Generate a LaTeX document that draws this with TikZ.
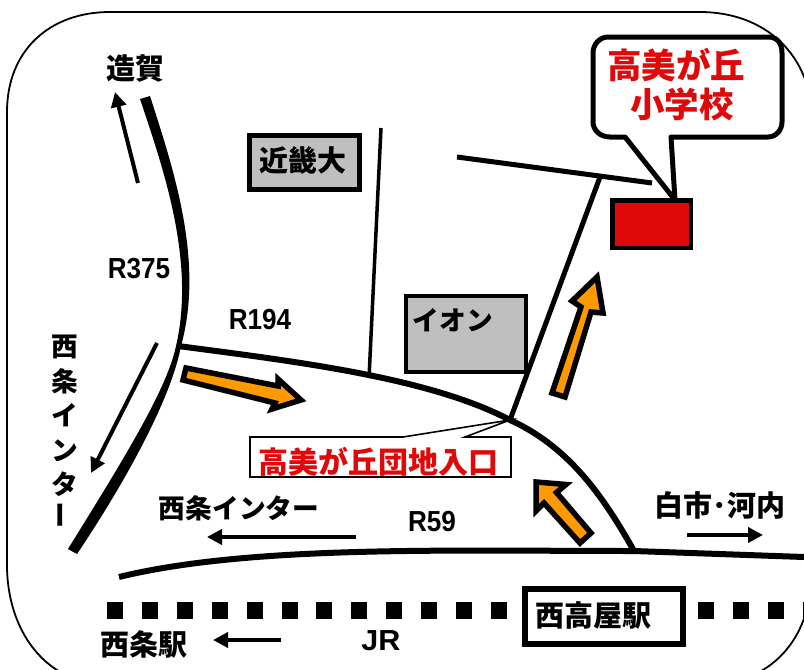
\documentclass[tikz,border=0pt]{standalone}
\usepackage{fontspec}
\newfontfamily\cjk{Noto Sans CJK JP}
\newfontfamily\lat{Liberation Sans}
\usetikzlibrary{arrows.meta}
\definecolor{maroad}{RGB}{255,153,0}
\definecolor{mared}{RGB}{224,8,8}
\tikzset{
 x=1pt,y=-1pt,
 lab/.style={inner sep=0pt,font=\cjk\bfseries\fontsize{29}{31}\selectfont,text=black},
 smalllab/.style={inner sep=0pt,font=\cjk\bfseries\fontsize{26.7}{29}\selectfont,text=black},
 latlab/.style={inner sep=0pt,font=\lat\bfseries\fontsize{29}{31}\selectfont,xscale=.9},
 redlab/.style={inner sep=0pt,font=\cjk\bfseries\fontsize{34.5}{39}\selectfont,text=mared,align=center},
 bigroad/.style={line width=6pt,draw=black},
 midroad/.style={line width=5pt,draw=black},
 thinroad/.style={line width=3.5pt,draw=black},
 thinarrow/.style={line width=4pt,-{Triangle[length=15pt,width=15pt]}},
 orangearrow/.style={draw=black,line width=5.5pt,fill=maroad,miter limit=10}
}
\begin{document}
\begin{tikzpicture}
\useasboundingbox (0,0) rectangle (804,670);
\begin{scope}
\clip (0,0) rectangle (804,670);
\draw[line width=1.8pt] (7,112) .. controls (7,50) and (50,12) .. (110,12) -- (700,12) .. controls (765,12) and (812,55) .. (812,120) -- (812,570) .. controls (812,640) and (770,685) .. (705,685) -- (110,685) .. controls (45,685) and (7,630) .. (7,565) -- cycle;
\draw[line width=17pt,dash pattern=on 16pt off 18.9pt] (107,610) -- (510,610);
\draw[line width=17pt,dash pattern=on 16pt off 18.9pt] (698,610) -- (810,610);
\end{scope}
% roads
\coordinate (j1) at (178,346);
\coordinate (j2) at (510,420);
\coordinate (j3) at (634,551);
\fill (150,96) .. controls (172,165) and (205,260) .. (181,346) .. controls (172,395) and (130,475) .. (77,554) -- (68,549) .. controls (120,465) and (167,390) .. (176,346) .. controls (196,260) and (162,165) .. (140,99) -- cycle;
\draw[bigroad] (j1) .. controls (300,362) and (430,378) .. (j2) .. controls (565,445) and (600,490) .. (j3);
\draw[bigroad] (119,577) .. controls (250,545) and (450,551) .. (j3) -- (804,557);
\draw[midroad] (j2) -- (600,177);
\draw[thinroad] (381,128) -- (369,378);
\draw[midroad] (457,157) -- (652,183);
% arrows
\draw[thinarrow] (138,183) -- (115,92);
\draw[thinarrow] (157,343) -- (91,473);
\draw[thinarrow] (356,537) -- (207,537);
\draw[thinarrow] (687,535) -- (763,535);
\draw[thinarrow] (281,640) -- (213,640);
% orange arrows
\draw[orangearrow] (186,368) -- (183,380) -- (275,403) -- (272,409) -- (301,400) -- (278,379) -- (278,386) -- cycle;
\draw[orangearrow] (552,393) -- (565,397) -- (591,312) -- (603,313) -- (597,277) -- (572,301) -- (581,307) -- cycle;
\draw[orangearrow] (591,533) -- (580,543) -- (544,503) -- (536,511) -- (536,482) -- (566,484.5) -- (556.5,492.5) -- cycle;
% buildings
\node[draw=black,line width=5pt,fill=black!25,minimum width=110pt,minimum height=54pt,inner sep=0pt] (kinki) at (304.5,162.5) {};
\node[lab] at (303,161) {近畿大};
\node[draw=black,line width=4.5pt,fill=mared,minimum width=78.5pt,minimum height=47.5pt,inner sep=0pt] (school) at (651.5,224) {};
\node[draw=black,line width=4pt,fill=black!25,minimum width=120pt,minimum height=76pt,inner sep=0pt] (aeon) at (466,334) {};
\node[smalllab] at (453,320) {イオン};
% callout school
\draw[line width=5pt,fill=white,line join=round] (608,37) -- (768,37) .. controls (778,37) and (782,44) .. (782,53) -- (782,122) .. controls (782,130) and (776,137) .. (768,137) -- (671,137) -- (675,200) -- (625,137) -- (610,137) .. controls (600,137) and (593,130) .. (593,122) -- (593,53) .. controls (593,44) and (600,37) .. (608,37) -- cycle;
\node[redlab] (sch) at (676,85) {高美が丘\\ \hspace*{12pt}小学校};
% callout entrance
\draw[line width=1.6pt,fill=white] (250,437) -- (403,437) -- (510,420) -- (465,437) -- (511,437) -- (511,477) -- (250,477) -- cycle;
\node[inner sep=0pt,font=\cjk\bfseries\fontsize{30}{32}\selectfont,text=mared] (ent) at (378,462) {高美が丘団地入口};
% station
\node[draw=black,line width=6pt,fill=white,minimum width=158pt,minimum height=55pt,inner sep=0pt] (st) at (604,616.5) {};
\node[lab] at (593,615) {西高屋駅};
% labels
\node[lab] at (135,69) {造賀};
\node[latlab] at (139,269) {R375};
\node[latlab] at (260,320) {R194};
\node[latlab] at (432,522) {R59};
\node[latlab,xscale=1.17] at (381,641) {JR};
\node[smalllab] at (239,508) {西条インター};
\node[lab] at (720,505) {白市･河内};
\node[lab] at (144,644) {西条駅};
\node[smalllab,align=center,font=\cjk\bfseries\fontsize{26.7}{34.5}\selectfont] at (65,416) {西\\条\\イ\\ン\\タ};
\node[smalllab,rotate=90] at (64,515) {ー};
\end{tikzpicture}
\end{document}
